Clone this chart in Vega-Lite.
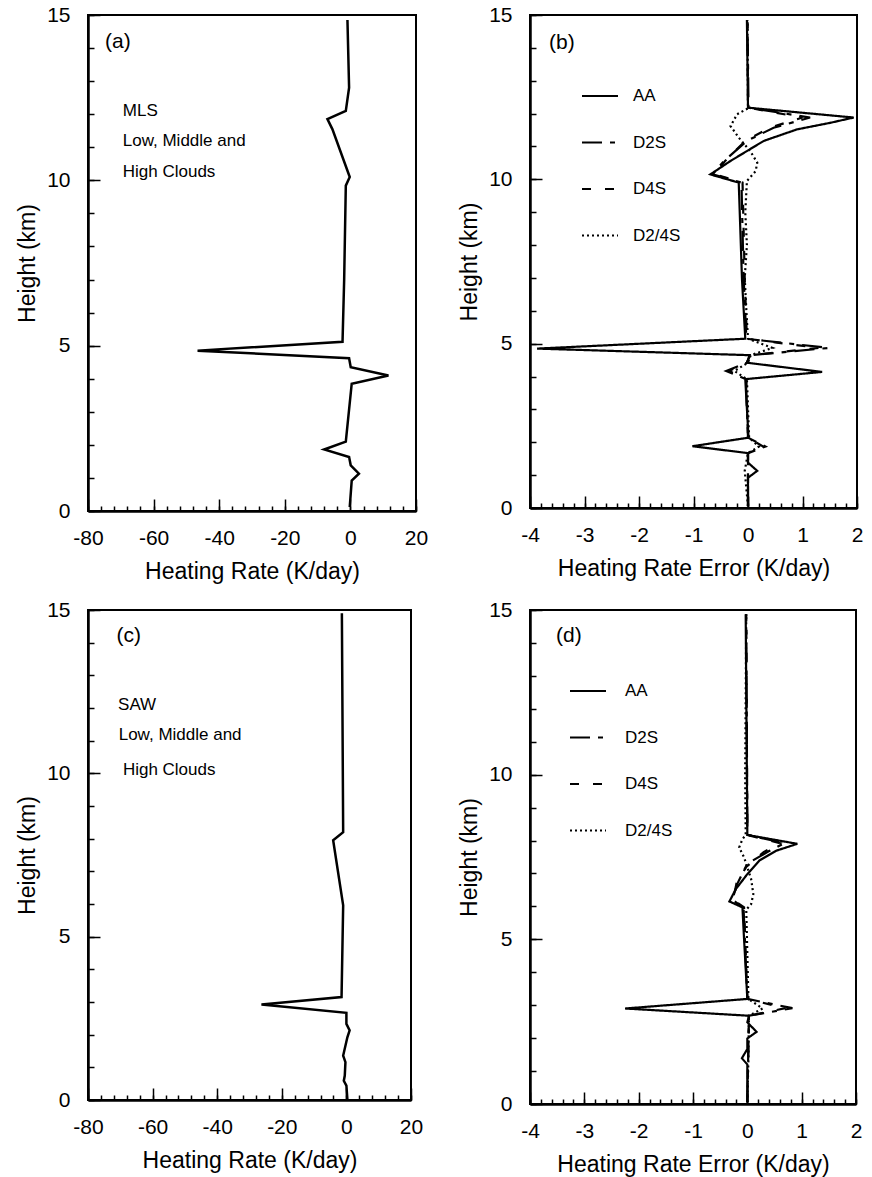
{
  "$schema": "https://vega.github.io/schema/vega-lite/v6.json",
  "background": "white",
  "padding": {"left": 15, "top": 3, "right": 5, "bottom": 0},
  "datasets": {
    "hrMLS": [
      {"height": 14.85, "rate": -0.9}, {"height": 12.8, "rate": -0.4}, {"height": 12.1, "rate": -1.4},
      {"height": 11.85, "rate": -7.0}, {"height": 11.55, "rate": -5.5}, {"height": 10.1, "rate": -0.2},
      {"height": 9.84, "rate": -1.4}, {"height": 7.0, "rate": -1.9}, {"height": 5.12, "rate": -2.4},
      {"height": 4.85, "rate": -46.6}, {"height": 4.62, "rate": -0.4}, {"height": 4.35, "rate": 0.1},
      {"height": 4.1, "rate": 11.6}, {"height": 3.85, "rate": 0.4}, {"height": 2.1, "rate": -1.4},
      {"height": 1.86, "rate": -8.0}, {"height": 1.63, "rate": -0.4}, {"height": 1.38, "rate": 0.1},
      {"height": 1.13, "rate": 2.6}, {"height": 0.92, "rate": 0.4}, {"height": 0.12, "rate": -0.2}
    ],
    "hrSAW": [
      {"height": 14.9, "rate": -1.4}, {"height": 8.2, "rate": -1.0}, {"height": 7.95, "rate": -4.1},
      {"height": 5.96, "rate": -1.0}, {"height": 3.15, "rate": -1.5}, {"height": 2.92, "rate": -26.3},
      {"height": 2.67, "rate": 0.0}, {"height": 2.33, "rate": 0.0}, {"height": 2.13, "rate": 1.0},
      {"height": 1.92, "rate": 0.3}, {"height": 1.36, "rate": -1.0}, {"height": 1.16, "rate": -0.3},
      {"height": 0.75, "rate": -0.5}, {"height": 0.59, "rate": -0.8}, {"height": 0.44, "rate": 0.0},
      {"height": 0.03, "rate": 0.3}
    ],
    "errMLS": [
      {"scheme": "AA", "height": 14.85, "err": -0.02}, {"scheme": "AA", "height": 12.18, "err": 0.0},
      {"scheme": "AA", "height": 11.88, "err": 1.94}, {"scheme": "AA", "height": 11.72, "err": 1.51},
      {"scheme": "AA", "height": 11.52, "err": 0.9}, {"scheme": "AA", "height": 11.17, "err": 0.29},
      {"scheme": "AA", "height": 10.86, "err": -0.02}, {"scheme": "AA", "height": 10.56, "err": -0.32},
      {"scheme": "AA", "height": 10.15, "err": -0.69}, {"scheme": "AA", "height": 9.9, "err": -0.17},
      {"scheme": "AA", "height": 6.95, "err": -0.11}, {"scheme": "AA", "height": 5.15, "err": -0.05},
      {"scheme": "AA", "height": 4.85, "err": -3.87}, {"scheme": "AA", "height": 4.65, "err": 0.03},
      {"scheme": "AA", "height": 4.42, "err": -0.02}, {"scheme": "AA", "height": 4.14, "err": 1.36},
      {"scheme": "AA", "height": 3.92, "err": -0.05}, {"scheme": "AA", "height": 2.14, "err": 0.01},
      {"scheme": "AA", "height": 1.88, "err": -1.02}, {"scheme": "AA", "height": 1.67, "err": 0.0},
      {"scheme": "AA", "height": 1.38, "err": 0.0}, {"scheme": "AA", "height": 1.13, "err": 0.17},
      {"scheme": "AA", "height": 0.92, "err": 0.0}, {"scheme": "AA", "height": 0.05, "err": 0.0},
      {"scheme": "D2S", "height": 14.85, "err": -0.01}, {"scheme": "D2S", "height": 12.18, "err": 0.01},
      {"scheme": "D2S", "height": 11.88, "err": 1.14}, {"scheme": "D2S", "height": 11.57, "err": 0.47},
      {"scheme": "D2S", "height": 11.17, "err": -0.02}, {"scheme": "D2S", "height": 10.56, "err": -0.44},
      {"scheme": "D2S", "height": 10.15, "err": -0.65}, {"scheme": "D2S", "height": 9.9, "err": -0.12},
      {"scheme": "D2S", "height": 7.0, "err": -0.08}, {"scheme": "D2S", "height": 5.15, "err": -0.03},
      {"scheme": "D2S", "height": 4.87, "err": 1.48}, {"scheme": "D2S", "height": 4.65, "err": 0.05},
      {"scheme": "D2S", "height": 4.42, "err": -0.02}, {"scheme": "D2S", "height": 4.17, "err": -0.4},
      {"scheme": "D2S", "height": 3.92, "err": -0.04}, {"scheme": "D2S", "height": 2.14, "err": 0.0},
      {"scheme": "D2S", "height": 1.87, "err": 0.32}, {"scheme": "D2S", "height": 1.67, "err": 0.0},
      {"scheme": "D2S", "height": 0.05, "err": 0.0},
      {"scheme": "D4S", "height": 14.85, "err": -0.01}, {"scheme": "D4S", "height": 12.18, "err": 0.0},
      {"scheme": "D4S", "height": 11.88, "err": 1.0}, {"scheme": "D4S", "height": 11.57, "err": 0.4},
      {"scheme": "D4S", "height": 11.17, "err": -0.05}, {"scheme": "D4S", "height": 10.56, "err": -0.42},
      {"scheme": "D4S", "height": 10.15, "err": -0.6}, {"scheme": "D4S", "height": 9.9, "err": -0.1},
      {"scheme": "D4S", "height": 7.0, "err": -0.06}, {"scheme": "D4S", "height": 5.15, "err": -0.02},
      {"scheme": "D4S", "height": 4.87, "err": 1.3}, {"scheme": "D4S", "height": 4.65, "err": 0.04},
      {"scheme": "D4S", "height": 4.42, "err": -0.02}, {"scheme": "D4S", "height": 4.17, "err": -0.35},
      {"scheme": "D4S", "height": 3.92, "err": -0.03}, {"scheme": "D4S", "height": 2.14, "err": 0.0},
      {"scheme": "D4S", "height": 1.87, "err": 0.28}, {"scheme": "D4S", "height": 1.67, "err": 0.0},
      {"scheme": "D4S", "height": 0.05, "err": 0.0},
      {"scheme": "D2/4S", "height": 14.85, "err": -0.01}, {"scheme": "D2/4S", "height": 12.16, "err": 0.0},
      {"scheme": "D2/4S", "height": 11.98, "err": -0.2}, {"scheme": "D2/4S", "height": 11.62, "err": -0.32},
      {"scheme": "D2/4S", "height": 11.27, "err": -0.17}, {"scheme": "D2/4S", "height": 10.86, "err": 0.04},
      {"scheme": "D2/4S", "height": 10.51, "err": 0.17}, {"scheme": "D2/4S", "height": 10.25, "err": 0.14},
      {"scheme": "D2/4S", "height": 9.95, "err": -0.02}, {"scheme": "D2/4S", "height": 9.0, "err": -0.05},
      {"scheme": "D2/4S", "height": 8.0, "err": -0.02}, {"scheme": "D2/4S", "height": 7.0, "err": -0.06},
      {"scheme": "D2/4S", "height": 6.0, "err": -0.03}, {"scheme": "D2/4S", "height": 5.15, "err": 0.0},
      {"scheme": "D2/4S", "height": 4.87, "err": 0.45}, {"scheme": "D2/4S", "height": 4.65, "err": 0.05},
      {"scheme": "D2/4S", "height": 4.42, "err": 0.0}, {"scheme": "D2/4S", "height": 4.17, "err": -0.25},
      {"scheme": "D2/4S", "height": 3.92, "err": -0.02}, {"scheme": "D2/4S", "height": 2.14, "err": 0.02},
      {"scheme": "D2/4S", "height": 1.87, "err": 0.2}, {"scheme": "D2/4S", "height": 1.67, "err": 0.0},
      {"scheme": "D2/4S", "height": 1.13, "err": -0.06}, {"scheme": "D2/4S", "height": 0.05, "err": 0.0}
    ],
    "errSAW": [
      {"scheme": "AA", "height": 14.87, "err": -0.03}, {"scheme": "AA", "height": 8.17, "err": 0.0},
      {"scheme": "AA", "height": 7.9, "err": 0.92}, {"scheme": "AA", "height": 7.69, "err": 0.53},
      {"scheme": "AA", "height": 7.39, "err": 0.22}, {"scheme": "AA", "height": 6.98, "err": 0.0},
      {"scheme": "AA", "height": 6.53, "err": -0.21}, {"scheme": "AA", "height": 6.15, "err": -0.33},
      {"scheme": "AA", "height": 5.97, "err": -0.09}, {"scheme": "AA", "height": 5.0, "err": -0.06},
      {"scheme": "AA", "height": 3.19, "err": 0.0}, {"scheme": "AA", "height": 2.9, "err": -2.25},
      {"scheme": "AA", "height": 2.68, "err": 0.03}, {"scheme": "AA", "height": 2.48, "err": 0.0},
      {"scheme": "AA", "height": 2.19, "err": 0.17}, {"scheme": "AA", "height": 1.99, "err": 0.0},
      {"scheme": "AA", "height": 1.67, "err": 0.0}, {"scheme": "AA", "height": 1.39, "err": -0.1},
      {"scheme": "AA", "height": 1.2, "err": 0.0}, {"scheme": "AA", "height": 0.05, "err": 0.0},
      {"scheme": "D2S", "height": 14.87, "err": -0.02}, {"scheme": "D2S", "height": 8.17, "err": 0.0},
      {"scheme": "D2S", "height": 7.92, "err": 0.68}, {"scheme": "D2S", "height": 7.68, "err": 0.4},
      {"scheme": "D2S", "height": 7.3, "err": 0.0}, {"scheme": "D2S", "height": 6.7, "err": -0.18},
      {"scheme": "D2S", "height": 6.2, "err": -0.28}, {"scheme": "D2S", "height": 5.97, "err": -0.07},
      {"scheme": "D2S", "height": 3.19, "err": 0.0}, {"scheme": "D2S", "height": 2.91, "err": 0.83},
      {"scheme": "D2S", "height": 2.68, "err": 0.03}, {"scheme": "D2S", "height": 0.05, "err": 0.0},
      {"scheme": "D4S", "height": 14.87, "err": -0.02}, {"scheme": "D4S", "height": 8.17, "err": 0.0},
      {"scheme": "D4S", "height": 7.92, "err": 0.6}, {"scheme": "D4S", "height": 7.65, "err": 0.3},
      {"scheme": "D4S", "height": 7.2, "err": -0.02}, {"scheme": "D4S", "height": 6.7, "err": -0.2},
      {"scheme": "D4S", "height": 6.2, "err": -0.26}, {"scheme": "D4S", "height": 5.97, "err": -0.06},
      {"scheme": "D4S", "height": 3.19, "err": 0.0}, {"scheme": "D4S", "height": 2.91, "err": 0.7},
      {"scheme": "D4S", "height": 2.68, "err": 0.03}, {"scheme": "D4S", "height": 0.05, "err": 0.0},
      {"scheme": "D2/4S", "height": 14.87, "err": -0.02}, {"scheme": "D2/4S", "height": 10.0, "err": -0.04},
      {"scheme": "D2/4S", "height": 8.17, "err": -0.03}, {"scheme": "D2/4S", "height": 8.04, "err": -0.09},
      {"scheme": "D2/4S", "height": 7.79, "err": -0.15}, {"scheme": "D2/4S", "height": 7.49, "err": -0.06},
      {"scheme": "D2/4S", "height": 6.83, "err": 0.07}, {"scheme": "D2/4S", "height": 6.37, "err": 0.11},
      {"scheme": "D2/4S", "height": 6.07, "err": 0.07}, {"scheme": "D2/4S", "height": 5.9, "err": -0.02},
      {"scheme": "D2/4S", "height": 3.19, "err": 0.02}, {"scheme": "D2/4S", "height": 2.9, "err": 0.28},
      {"scheme": "D2/4S", "height": 2.68, "err": 0.03}, {"scheme": "D2/4S", "height": 1.39, "err": 0.02},
      {"scheme": "D2/4S", "height": 0.05, "err": 0.0}
    ],
    "tagA": [{"tag": "(a)", "x": -74.8, "h": 14.18}],
    "tagB": [{"tag": "(b)", "x": -3.65, "h": 14.16}],
    "tagC": [{"tag": "(c)", "x": -71.2, "h": 14.19}],
    "tagD": [{"tag": "(d)", "x": -3.52, "h": 14.21}],
    "noteA": [
      {"text": "MLS", "x": -69.4, "h": 12.1},
      {"text": "Low, Middle and", "x": -69.4, "h": 11.2},
      {"text": "High Clouds", "x": -69.4, "h": 10.26}
    ],
    "noteC": [
      {"text": "SAW", "x": -70.7, "h": 12.1},
      {"text": "Low, Middle and", "x": -70.5, "h": 11.17},
      {"text": "High Clouds", "x": -69.2, "h": 10.1}
    ]
  },
  "columns": 2,
  "bounds": "flush",
  "spacing": {"row": 99, "column": 114},
  "resolve": {"scale": {"strokeDash": "independent"}, "legend": {"strokeDash": "independent"}},
  "concat": [
    {
      "width": 328, "height": 496,
      "layer": [
        {
          "data": {"name": "hrMLS"},
          "mark": {"type": "line", "color": "black", "strokeWidth": 2.5},
          "encoding": {
            "x": {"field": "rate", "type": "quantitative", "scale": {"domain": [-80, 20], "nice": false, "zero": false},
                  "axis": {"orient": "bottom", "values": [-80, -60, -40, -20, 0, 20], "tickSize": -12, "labelPadding": 28, "labelExpr": "'' + datum.value", "title": "Heating Rate (K/day)", "titlePadding": 12}},
            "y": {"field": "height", "type": "quantitative", "scale": {"domain": [0, 15], "nice": false, "zero": false},
                  "axis": {"orient": "left", "values": [0, 5, 10, 15], "tickSize": -12, "labelPadding": 30, "labelExpr": "'' + datum.value", "title": "Height (km)", "titlePadding": 7}},
            "order": {"field": "height", "type": "quantitative"}
          }
        },
        {
          "data": {"name": "tagA"},
          "mark": {"type": "text", "align": "left", "baseline": "middle", "fontSize": 21, "color": "black"},
          "encoding": {
            "x": {"field": "x", "type": "quantitative", "scale": {"domain": [-80, 20], "nice": false, "zero": false},
                  "axis": {"orient": "bottom", "values": [-80, -76, -72, -68, -64, -60, -56, -52, -48, -44, -40, -36, -32, -28, -24, -20, -16, -12, -8, -4, 0, 4, 8, 12, 16, 20], "tickSize": -5, "labels": false, "domain": false, "title": null}},
            "y": {"field": "h", "type": "quantitative", "scale": {"domain": [0, 15], "nice": false, "zero": false},
                  "axis": {"orient": "left", "values": [0, 1, 2, 3, 4, 5, 6, 7, 8, 9, 10, 11, 12, 13, 14, 15], "tickSize": -6, "labels": false, "domain": false, "title": null}},
            "text": {"field": "tag"}
          }
        },
        {
          "data": {"name": "noteA"},
          "mark": {"type": "text", "align": "left", "baseline": "middle", "fontSize": 17, "color": "black"},
          "encoding": {
            "x": {"field": "x", "type": "quantitative", "scale": {"domain": [-80, 20], "nice": false, "zero": false}, "axis": null},
            "y": {"field": "h", "type": "quantitative", "scale": {"domain": [0, 15], "nice": false, "zero": false}, "axis": null},
            "text": {"field": "text"}
          }
        }
      ],
      "resolve": {"axis": {"x": "independent", "y": "independent"}}
    },
    {
      "width": 327, "height": 493,
      "layer": [
        {
          "data": {"name": "errMLS"},
          "mark": {"type": "line", "color": "black", "strokeWidth": 2.2},
          "encoding": {
            "x": {"field": "err", "type": "quantitative", "scale": {"domain": [-4, 2], "nice": false, "zero": false},
                  "axis": {"orient": "bottom", "values": [-4, -3, -2, -1, 0, 1, 2], "tickSize": -12, "labelPadding": 28, "labelExpr": "'' + datum.value", "title": "Heating Rate Error (K/day)", "titlePadding": 12}},
            "y": {"field": "height", "type": "quantitative", "scale": {"domain": [0, 15], "nice": false, "zero": false},
                  "axis": {"orient": "left", "values": [0, 5, 10, 15], "tickSize": -12, "labelPadding": 30, "labelExpr": "'' + datum.value", "title": "Height (km)", "titlePadding": 7}},
            "strokeDash": {"field": "scheme", "type": "nominal",
              "scale": {"domain": ["AA", "D2S", "D4S", "D2/4S"], "range": [[1, 0], [20, 8, 5, 8], [9, 14], [2, 3]]},
              "legend": {"orient": "none", "legendX": 51, "legendY": 62, "title": null, "padding": 0, "symbolType": "stroke", "symbolSize": 1296, "symbolStrokeWidth": 2, "symbolStrokeColor": "black", "labelFontSize": 17, "labelOffset": 14, "rowPadding": 19.5, "labelColor": "black"}},
            "order": {"field": "height", "type": "quantitative"}
          }
        },
        {
          "data": {"name": "tagB"},
          "mark": {"type": "text", "align": "left", "baseline": "middle", "fontSize": 21, "color": "black"},
          "encoding": {
            "x": {"field": "x", "type": "quantitative", "scale": {"domain": [-4, 2], "nice": false, "zero": false},
                  "axis": {"orient": "bottom", "values": [-4, -3.8, -3.6, -3.4, -3.2, -3, -2.8, -2.6, -2.4, -2.2, -2, -1.8, -1.6, -1.4, -1.2, -1, -0.8, -0.6, -0.4, -0.2, 0, 0.2, 0.4, 0.6, 0.8, 1, 1.2, 1.4, 1.6, 1.8, 2], "tickSize": -5, "labels": false, "domain": false, "title": null}},
            "y": {"field": "h", "type": "quantitative", "scale": {"domain": [0, 15], "nice": false, "zero": false},
                  "axis": {"orient": "left", "values": [0, 1, 2, 3, 4, 5, 6, 7, 8, 9, 10, 11, 12, 13, 14, 15], "tickSize": -6, "labels": false, "domain": false, "title": null}},
            "text": {"field": "tag"}
          }
        }
      ],
      "resolve": {"axis": {"x": "independent", "y": "independent"}}
    },
    {
      "width": 323, "height": 490,
      "layer": [
        {
          "data": {"name": "hrSAW"},
          "mark": {"type": "line", "color": "black", "strokeWidth": 2.5},
          "encoding": {
            "x": {"field": "rate", "type": "quantitative", "scale": {"domain": [-80, 20], "nice": false, "zero": false},
                  "axis": {"orient": "bottom", "values": [-80, -60, -40, -20, 0, 20], "tickSize": -12, "labelPadding": 28, "labelExpr": "'' + datum.value", "title": "Heating Rate (K/day)", "titlePadding": 12}},
            "y": {"field": "height", "type": "quantitative", "scale": {"domain": [0, 15], "nice": false, "zero": false},
                  "axis": {"orient": "left", "values": [0, 5, 10, 15], "tickSize": -12, "labelPadding": 30, "labelExpr": "'' + datum.value", "title": "Height (km)", "titlePadding": 7}},
            "order": {"field": "height", "type": "quantitative"}
          }
        },
        {
          "data": {"name": "tagC"},
          "mark": {"type": "text", "align": "left", "baseline": "middle", "fontSize": 21, "color": "black"},
          "encoding": {
            "x": {"field": "x", "type": "quantitative", "scale": {"domain": [-80, 20], "nice": false, "zero": false},
                  "axis": {"orient": "bottom", "values": [-80, -76, -72, -68, -64, -60, -56, -52, -48, -44, -40, -36, -32, -28, -24, -20, -16, -12, -8, -4, 0, 4, 8, 12, 16, 20], "tickSize": -5, "labels": false, "domain": false, "title": null}},
            "y": {"field": "h", "type": "quantitative", "scale": {"domain": [0, 15], "nice": false, "zero": false},
                  "axis": {"orient": "left", "values": [0, 1, 2, 3, 4, 5, 6, 7, 8, 9, 10, 11, 12, 13, 14, 15], "tickSize": -6, "labels": false, "domain": false, "title": null}},
            "text": {"field": "tag"}
          }
        },
        {
          "data": {"name": "noteC"},
          "mark": {"type": "text", "align": "left", "baseline": "middle", "fontSize": 17, "color": "black"},
          "encoding": {
            "x": {"field": "x", "type": "quantitative", "scale": {"domain": [-80, 20], "nice": false, "zero": false}, "axis": null},
            "y": {"field": "h", "type": "quantitative", "scale": {"domain": [0, 15], "nice": false, "zero": false}, "axis": null},
            "text": {"field": "text"}
          }
        }
      ],
      "resolve": {"axis": {"x": "independent", "y": "independent"}}
    },
    {
      "width": 326, "height": 494,
      "layer": [
        {
          "data": {"name": "errSAW"},
          "mark": {"type": "line", "color": "black", "strokeWidth": 2.2},
          "encoding": {
            "x": {"field": "err", "type": "quantitative", "scale": {"domain": [-4, 2], "nice": false, "zero": false},
                  "axis": {"orient": "bottom", "values": [-4, -3, -2, -1, 0, 1, 2], "tickSize": -12, "labelPadding": 28, "labelExpr": "'' + datum.value", "title": "Heating Rate Error (K/day)", "titlePadding": 12}},
            "y": {"field": "height", "type": "quantitative", "scale": {"domain": [0, 15], "nice": false, "zero": false},
                  "axis": {"orient": "left", "values": [0, 5, 10, 15], "tickSize": -12, "labelPadding": 30, "labelExpr": "'' + datum.value", "title": "Height (km)", "titlePadding": 7}},
            "strokeDash": {"field": "scheme", "type": "nominal",
              "scale": {"domain": ["AA", "D2S", "D4S", "D2/4S"], "range": [[1, 0], [20, 8, 5, 8], [9, 14], [2, 3]]},
              "legend": {"orient": "none", "legendX": 39, "legendY": 62, "title": null, "padding": 0, "symbolType": "stroke", "symbolSize": 1296, "symbolStrokeWidth": 2, "symbolStrokeColor": "black", "labelFontSize": 17, "labelOffset": 18, "rowPadding": 19.5, "labelColor": "black"}},
            "order": {"field": "height", "type": "quantitative"}
          }
        },
        {
          "data": {"name": "tagD"},
          "mark": {"type": "text", "align": "left", "baseline": "middle", "fontSize": 21, "color": "black"},
          "encoding": {
            "x": {"field": "x", "type": "quantitative", "scale": {"domain": [-4, 2], "nice": false, "zero": false},
                  "axis": {"orient": "bottom", "values": [-4, -3.8, -3.6, -3.4, -3.2, -3, -2.8, -2.6, -2.4, -2.2, -2, -1.8, -1.6, -1.4, -1.2, -1, -0.8, -0.6, -0.4, -0.2, 0, 0.2, 0.4, 0.6, 0.8, 1, 1.2, 1.4, 1.6, 1.8, 2], "tickSize": -5, "labels": false, "domain": false, "title": null}},
            "y": {"field": "h", "type": "quantitative", "scale": {"domain": [0, 15], "nice": false, "zero": false},
                  "axis": {"orient": "left", "values": [0, 1, 2, 3, 4, 5, 6, 7, 8, 9, 10, 11, 12, 13, 14, 15], "tickSize": -6, "labels": false, "domain": false, "title": null}},
            "text": {"field": "tag"}
          }
        }
      ],
      "resolve": {"axis": {"x": "independent", "y": "independent"}}
    }
  ],
  "config": {
    "font": "Liberation Sans",
    "view": {"stroke": "black", "strokeWidth": 2},
    "axis": {"grid": false, "domainColor": "black", "domainWidth": 2.5, "tickColor": "black", "tickWidth": 1.5,
             "labelColor": "black", "labelFont": "Liberation Sans", "labelFontSize": 21, "labelFlush": false, "labelOverlap": false,
             "titleColor": "black", "titleFont": "Liberation Sans", "titleFontSize": 23, "titleFontWeight": "normal"},
    "text": {"font": "Liberation Sans"},
    "legend": {"labelFont": "Liberation Sans"}
  }
}
